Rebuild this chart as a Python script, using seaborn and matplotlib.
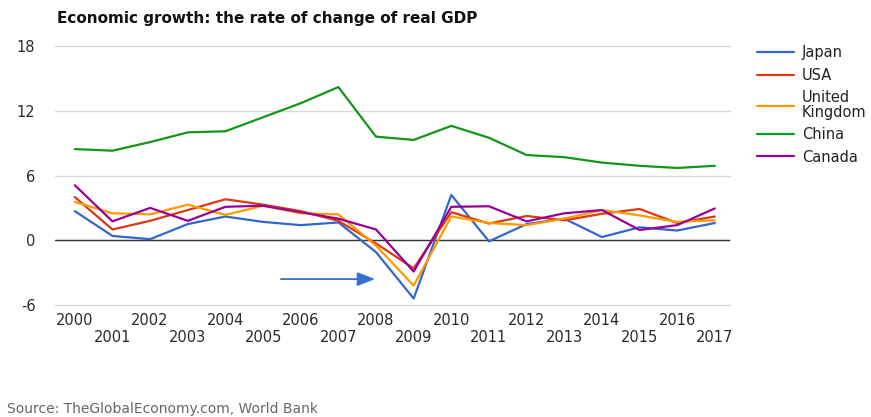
import matplotlib
matplotlib.use("Agg")
import matplotlib.pyplot as plt
import seaborn as sns
import pandas as pd

years = list(range(2000, 2018))
japan = [2.7, 0.4, 0.1, 1.5, 2.2, 1.7, 1.4, 1.65, -1.1, -5.4, 4.2, -0.1, 1.5, 2.0, 0.3, 1.2, 0.9, 1.6]
usa = [4.0, 1.0, 1.8, 2.8, 3.8, 3.3, 2.7, 1.8, -0.3, -2.6, 2.6, 1.55, 2.25, 1.85, 2.45, 2.9, 1.6, 2.2]
uk = [3.55, 2.5, 2.4, 3.3, 2.35, 3.2, 2.5, 2.4, -0.5, -4.2, 2.2, 1.6, 1.4, 2.0, 2.8, 2.3, 1.7, 1.85]
china = [8.45, 8.3, 9.1, 10.0, 10.1, 11.4, 12.7, 14.2, 9.6, 9.3, 10.6, 9.5, 7.9, 7.7, 7.2, 6.9, 6.7, 6.9]
canada = [5.1, 1.75, 3.0, 1.8, 3.1, 3.2, 2.6, 2.0, 1.0, -2.9, 3.1, 3.15, 1.75, 2.5, 2.8, 0.95, 1.4, 2.95]
series_names = ["Japan", "USA", "United\nKingdom", "China", "Canada"]
colors = ["#3366cc", "#dc3912", "#ff9900", "#109618", "#990099"]
yticks = [-6, 0, 6, 12, 18]
title = "Economic growth: the rate of change of real GDP"
source = "Source: TheGlobalEconomy.com, World Bank"

rows = []
for name, vals in zip(series_names, [japan, usa, uk, china, canada]):
    for y, v in zip(years, vals):
        rows.append({"year": y, "value": v, "country": name})
df = pd.DataFrame(rows)

sns.set_theme(style="white")
plt.rcParams['font.family'] = ['DejaVu Sans']

fig = plt.figure(figsize=(8.71, 4.17), dpi=100)
ax = fig.add_axes([0.063, 0.2686, 0.775, 0.621])

sns.lineplot(data=df, x="year", y="value", hue="country", hue_order=series_names,
             palette=colors, linewidth=1.6, ax=ax, legend=True)

ax.set_xlim(1999.47, 2017.4)
ax.set_ylim(-6, 18)
ax.set_yticks(yticks)
ax.set_yticklabels([str(t) for t in yticks])
ax.yaxis.grid(True, color="#d9d9d9", linewidth=1)
for gl in ax.get_ygridlines():
    gl.set_clip_on(False)
ax.set_axisbelow(True)
ax.axhline(0, color="#333333", linewidth=1, zorder=1.5)
for s in ax.spines.values():
    s.set_visible(False)
ax.set_xlabel("")
ax.set_ylabel("")
ax.set_xticks(years)
ax.set_xticklabels([str(y) if y % 2 == 0 else "\n" + str(y) for y in years])
ax.tick_params(axis="both", length=0, labelsize=10.5, colors="#2a2a2a")
ax.tick_params(axis="y", pad=14)
ax.tick_params(axis="x", pad=6)
for lbl in ax.get_xticklabels():
    lbl.set_linespacing(1.1)

# annotation arrow
ax.annotate("", xy=(2008.05, -3.6), xytext=(2005.4, -3.6),
            arrowprops=dict(arrowstyle="-|>,head_length=0.9,head_width=0.35",
                            color="#3a6fd0", linewidth=1.3))

leg = ax.legend(loc="upper left", bbox_to_anchor=(1.032, 1.025), frameon=False,
                fontsize=10.5, handlelength=2.5, handletextpad=0.55, labelspacing=0.5,
                borderaxespad=0)
for t in leg.get_texts():
    t.set_color("#222222")
    t.set_linespacing(1.0)

fig.text(0.066, 0.955, title, fontsize=11, fontweight="bold", color="#111111", va="center")
fig.text(0.008, 0.02, source, fontsize=10, color="#666666", va="center")

fig.savefig("out.png", dpi=100, facecolor="white")
